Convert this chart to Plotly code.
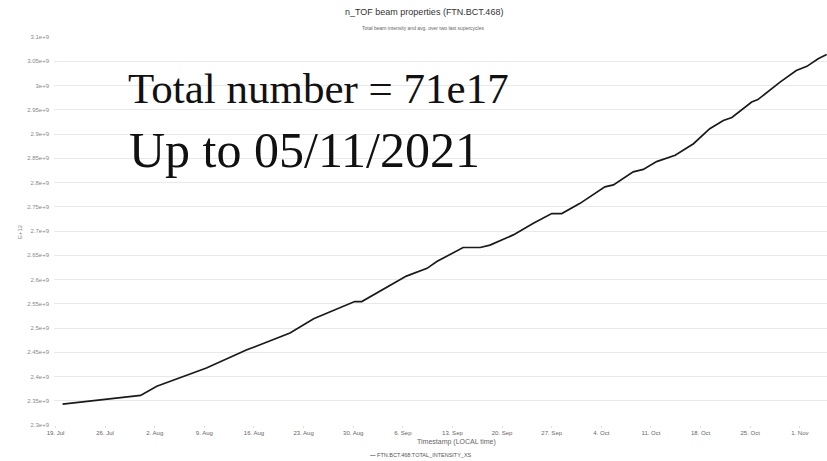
import plotly.graph_objects as go

# Cumulative protons on the n_TOF target, FTN.BCT.468
timestamps = [
    "2021-07-20 00:00", "2021-07-31 00:00", "2021-08-02 07:00", "2021-08-07 17:00",
    "2021-08-09 07:00", "2021-08-15 00:00", "2021-08-21 02:00", "2021-08-24 10:00",
    "2021-08-26 05:00", "2021-08-30 05:00", "2021-08-31 05:00", "2021-09-03 05:00",
    "2021-09-06 12:00", "2021-09-09 10:00", "2021-09-10 19:00", "2021-09-14 12:00",
    "2021-09-16 22:00", "2021-09-18 07:00", "2021-09-21 14:00", "2021-09-24 10:00",
    "2021-09-27 00:00", "2021-09-28 10:00", "2021-10-01 00:00", "2021-10-04 12:00",
    "2021-10-05 17:00", "2021-10-08 12:00", "2021-10-09 22:00", "2021-10-11 19:00",
    "2021-10-13 05:00", "2021-10-14 10:00", "2021-10-17 00:00", "2021-10-19 07:00",
    "2021-10-21 05:00", "2021-10-22 10:00", "2021-10-25 05:00", "2021-10-26 02:00",
    "2021-10-29 05:00", "2021-10-31 12:00", "2021-11-02 00:00", "2021-11-03 14:00",
    "2021-11-04 19:00",
]
total_intensity = [
    2.343e9, 2.361e9, 2.380e9, 2.408e9,
    2.4175e9, 2.455e9, 2.4895e9, 2.519e9,
    2.530e9, 2.5545e9, 2.5545e9, 2.579e9,
    2.607e9, 2.623e9, 2.637e9, 2.666e9,
    2.666e9, 2.671e9, 2.692e9, 2.716e9,
    2.736e9, 2.736e9, 2.757e9, 2.791e9,
    2.795e9, 2.822e9, 2.827e9, 2.843e9,
    2.850e9, 2.856e9, 2.880e9, 2.911e9,
    2.928e9, 2.934e9, 2.966e9, 2.971e9,
    3.007e9, 3.031e9, 3.0395e9, 3.055e9,
    3.064e9,
]

series_name = "FTN.BCT.468:TOTAL_INTENSITY_XS"

y_tick_values = [2.3e9, 2.35e9, 2.4e9, 2.45e9, 2.5e9, 2.55e9, 2.6e9, 2.65e9, 2.7e9,
                 2.75e9, 2.8e9, 2.85e9, 2.9e9, 2.95e9, 3.0e9, 3.05e9, 3.1e9]
y_tick_labels = ["2.3e+9", "2.35e+9", "2.4e+9", "2.45e+9", "2.5e+9", "2.55e+9", "2.6e+9",
                 "2.65e+9", "2.7e+9", "2.75e+9", "2.8e+9", "2.85e+9", "2.9e+9", "2.95e+9",
                 "3e+9", "3.05e+9", "3.1e+9"]

title_text = "n_TOF beam properties (FTN.BCT.468)"
subtitle_text = "Total beam intensity and avg. over two last supercycles"
x_title = "Timestamp (LOCAL time)"
y_title = "E+12"
overlay_lines = ["Total number = 71e17", "Up to 05/11/2021"]

W, H = 827, 461
ML, MR, MT, MB = 54, 0, 37, 36
PW, PH = W - ML - MR, H - MT - MB


def px_x(x):
    return (x - ML) / PW


def px_y(y):
    return (H - MB - y) / PH


fig = go.Figure()
fig.add_trace(go.Scatter(
    x=timestamps, y=total_intensity, mode="lines", name=series_name,
    line=dict(color="#1a1a1a", width=1.7), showlegend=False,
))

sans = "Liberation Sans"
fig.update_layout(
    width=W, height=H,
    margin=dict(l=ML, r=MR, t=MT, b=MB),
    paper_bgcolor="white", plot_bgcolor="white",
    font=dict(family=sans, color="#666666"),
    xaxis=dict(
        range=["2021-07-18 19:00", "2021-11-04 20:00"],
        tick0="2021-07-19", dtick=7 * 86400000, tickformat="%-d. %b",
        showgrid=False, zeroline=False, showline=False,
        ticks="outside", ticklen=2, tickcolor="#dddddd",
        tickfont=dict(size=6, color="#666666"),
    ),
    yaxis=dict(
        range=[2.3e9, 3.1e9],
        tickvals=y_tick_values, ticktext=y_tick_labels,
        showgrid=True, gridcolor="#e9e9e9", gridwidth=1,
        zeroline=False, showline=False, ticks="",
        ticklabelstandoff=4,
        tickfont=dict(size=6, color="#8a8a8a"),
    ),
)

annotations = [
    dict(text=title_text, x=px_x(424), y=px_y(12), font=dict(size=9, color="#333333")),
    dict(text=subtitle_text, x=px_x(423), y=px_y(28), font=dict(size=5, color="#666666")),
    dict(text=x_title, x=px_x(457), y=px_y(442), font=dict(size=7, color="#666666")),
    dict(text=y_title, x=px_x(20), y=px_y(232), textangle=-90, font=dict(size=6, color="#888888")),
    dict(text="<b>\u2014</b> " + series_name, x=px_x(421), y=px_y(455),
         font=dict(size=5.5, color="#555555")),
]
for a in annotations:
    a.update(xref="paper", yref="paper", showarrow=False, xanchor="center", yanchor="middle")
    fig.add_annotation(**a)

# Large serif overlay with the running total
serif = "Liberation Serif"
fig.add_annotation(text=overlay_lines[0], x=px_x(126), y=px_y(114), xref="paper", yref="paper",
                   xanchor="left", yanchor="bottom", showarrow=False,
                   font=dict(family=serif, size=43, color="#111111"))
fig.add_annotation(text=overlay_lines[1], x=px_x(127), y=px_y(180), xref="paper", yref="paper",
                   xanchor="left", yanchor="bottom", showarrow=False,
                   font=dict(family=serif, size=50, color="#111111"))

fig.write_html("out.html")
